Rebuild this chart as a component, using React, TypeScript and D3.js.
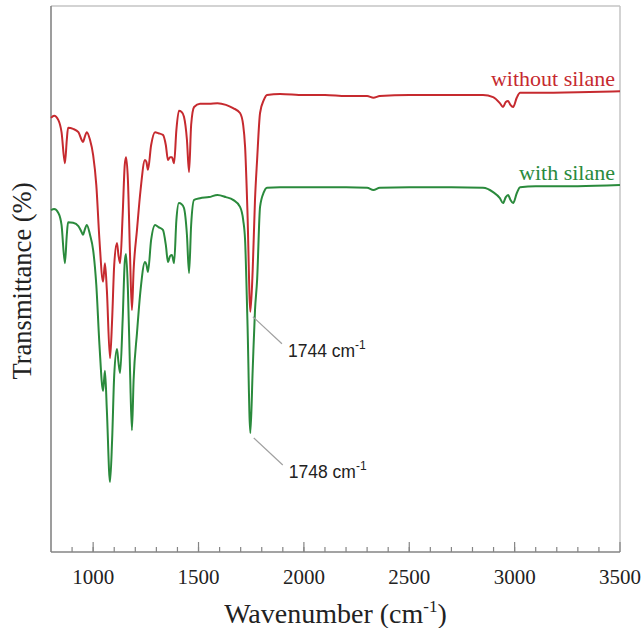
import React from "react";
import * as d3 from "d3";

// FTIR spectra: wavenumber (cm-1) and transmittance (arb. %), two samples
const wavenumbers = [
  800, 815, 835, 850, 866, 875, 881, 905, 930, 945, 952, 960, 970, 985, 1000, 1015, 1030, 1047, 1056, 1065,
  1080, 1090, 1100, 1113, 1120, 1128, 1140, 1150, 1156, 1165, 1175, 1184, 1192, 1208, 1225, 1246, 1253, 1260,
  1275, 1294, 1310, 1331, 1345, 1355, 1365, 1374, 1384, 1395, 1407, 1420, 1431, 1445, 1455, 1465, 1479, 1507,
  1550, 1590, 1630, 1664, 1697, 1712, 1721, 1732, 1746, 1757, 1768, 1778, 1792, 1810, 1825, 1887, 2000, 2100,
  2200, 2300, 2330, 2360, 2500, 2700, 2850, 2898, 2930, 2945, 2958, 2969, 2980, 2993, 3010, 3026, 3100, 3300, 3500,
];

const withoutSilane = [
  79.5, 79.9, 79.1, 76.9, 71.2, 75.5, 77.7, 77.5, 76.9, 75.5, 75.1, 76.0, 76.9, 75.5, 72.7, 67.2, 57.1, 49.5, 52.9, 48.0,
  35.5, 42.5, 52.6, 56.6, 54.4, 52.9, 61.7, 70.9, 72.3, 68.1, 54.4, 44.3, 51.6, 59.0, 66.3, 71.8, 71.4, 70.0,
  74.5, 76.9, 76.7, 76.4, 74.5, 71.8, 72.3, 72.3, 71.2, 77.3, 80.8, 80.6, 79.7, 75.5, 69.6, 78.2, 81.5, 82.1,
  82.1, 82.2, 81.9, 81.3, 80.4, 78.2, 74.2, 62.6, 44.0, 51.6, 64.5, 71.8, 80.4, 82.8, 83.7, 83.9, 83.7, 83.7,
  83.5, 83.5, 83.2, 83.5, 83.7, 83.7, 83.7, 83.3, 82.2, 81.5, 82.4, 82.6, 81.9, 81.5, 83.2, 84.1, 84.1, 84.2, 84.4,
];

const withSilane = [
  62.6, 62.8, 62.1, 59.9, 52.9, 58.1, 60.4, 60.3, 59.7, 58.6, 58.1, 59.0, 59.9, 58.1, 55.3, 48.9, 37.9, 29.5, 33.2, 26.0,
  12.8, 20.5, 32.4, 37.2, 34.8, 32.8, 42.5, 53.1, 54.6, 48.0, 33.3, 22.3, 31.5, 40.1, 48.0, 53.1, 52.6, 51.3,
  57.1, 59.9, 59.5, 59.0, 56.2, 53.1, 54.2, 54.4, 52.9, 60.8, 63.9, 63.7, 63.0, 58.1, 51.1, 59.9, 64.5, 64.8,
  65.0, 65.4, 65.0, 64.5, 63.2, 60.8, 57.1, 42.5, 21.8, 33.3, 44.3, 49.8, 63.2, 65.9, 66.7, 66.8, 66.8, 66.8,
  66.8, 66.7, 66.3, 66.7, 66.8, 66.8, 66.7, 65.9, 64.8, 63.9, 65.0, 65.4, 64.5, 63.9, 65.7, 66.8, 67.0, 67.0, 67.2,
];

const seriesNames = ["without silane", "with silane"];
const seriesColors = ["#c62a2f", "#2a8a3c"];

// Carbonyl band positions marked on the plot
const peakLabels = [1744, 1748];
const peakValues = [44.0, 21.8];

const xTicks = [1000, 1500, 2000, 2500, 3000, 3500];
const xMinorTicks = d3.range(900, 3500, 100);

const W = 643;
const H = 628;
const M = { left: 51, right: 23, top: 6, bottom: 76 };

export default function App() {
  const x = d3.scaleLinear().domain([800, 3500]).range([M.left, W - M.right]);
  const y = d3.scaleLinear().domain([0, 100]).range([H - M.bottom, M.top]);

  const line = d3
    .line<number>()
    .x((_, i) => x(wavenumbers[i]))
    .y((d) => y(d))
    .curve(d3.curveMonotoneX);

  const series = [withoutSilane, withSilane];
  const x0 = M.left;
  const x1 = W - M.right;
  const y0 = H - M.bottom;
  const y1 = M.top;

  // series labels sit just above the flat right end of each trace
  const lastIdx = wavenumbers.length - 1;

  return (
    <svg width={W} height={H} style={{ display: "block", position: "absolute", left: 0, top: 0, background: "#fff" }}>
      {/* frame */}
      <line x1={x0} x2={x1} y1={y1} y2={y1} stroke="#c4c4c4" strokeWidth={1.5} />
      <line x1={x1} x2={x1} y1={y1} y2={y0} stroke="#c4c4c4" strokeWidth={1.5} />
      <line x1={x0} x2={x0} y1={y1} y2={y0} stroke="#858585" strokeWidth={1.6} />
      <line x1={x0} x2={x1} y1={y0} y2={y0} stroke="#858585" strokeWidth={1.6} />

      {/* x ticks, drawn inward */}
      {xMinorTicks.map((t) => (
        <line key={"m" + t} x1={x(t)} x2={x(t)} y1={y0} y2={y0 - 5} stroke="#858585" strokeWidth={1.2} />
      ))}
      {xTicks.map((t) => (
        <line key={"M" + t} x1={x(t)} x2={x(t)} y1={y0} y2={y0 - 10} stroke="#858585" strokeWidth={1.2} />
      ))}
      {xTicks.map((t) => (
        <text
          key={"l" + t}
          x={x(t)}
          y={584}
          textAnchor="middle"
          fontFamily="'Liberation Serif', 'Times New Roman', serif"
          fontSize={21}
          fill="#222"
        >
          {t}
        </text>
      ))}

      {/* axis titles */}
      <text
        x={(x0 + x1) / 2}
        y={623}
        textAnchor="middle"
        fontFamily="'Liberation Serif', 'Times New Roman', serif"
        fontSize={28}
        fill="#222"
      >
        Wavenumber (cm
        <tspan dy={-11} fontSize={17}>-1</tspan>
        <tspan dy={11}>)</tspan>
      </text>
      <text
        transform={`translate(31, 281) rotate(-90)`}
        textAnchor="middle"
        fontFamily="'Liberation Serif', 'Times New Roman', serif"
        fontSize={26.5}
        fill="#222"
      >
        Transmittance (%)
      </text>

      {/* spectra */}
      {series.map((s, k) => (
        <path key={k} d={line(s) ?? ""} fill="none" stroke={seriesColors[k]} strokeWidth={2} strokeLinejoin="round" />
      ))}

      {/* series names */}
      {series.map((s, k) => (
        <text
          key={"n" + k}
          x={615}
          y={y(s[lastIdx]) - 5}
          textAnchor="end"
          fontFamily="'Liberation Serif', 'Times New Roman', serif"
          fontSize={22}
          fill={seriesColors[k]}
        >
          {seriesNames[k]}
        </text>
      ))}

      {/* peak callouts */}
      {peakLabels.map((p, k) => {
        const px = x(p);
        const py = y(peakValues[k]);
        return (
          <g key={"p" + k}>
            <line x1={px + 3} y1={py + 5} x2={px + 32} y2={py + 32} stroke="#a0a0a0" strokeWidth={1.2} />
            <text x={px + 38} y={py + 45} fontFamily="'Liberation Sans', Arial, sans-serif" fontSize={17.5} fill="#222">
              {p} cm
              <tspan dy={-8} fontSize={12}>-1</tspan>
            </text>
          </g>
        );
      })}
    </svg>
  );
}
